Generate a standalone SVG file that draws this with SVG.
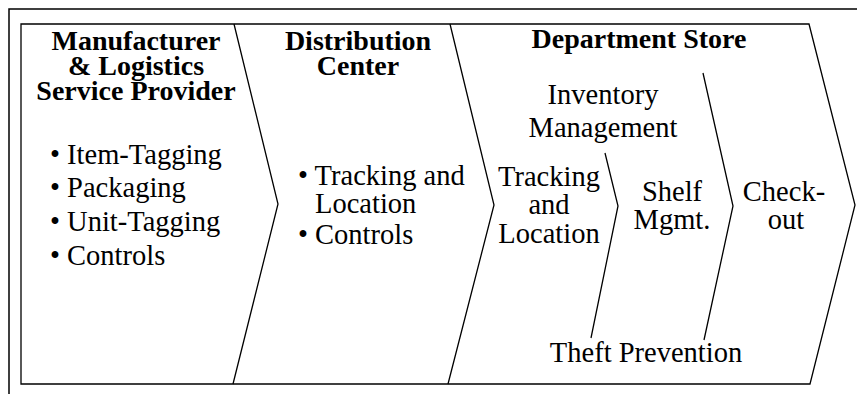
<svg xmlns="http://www.w3.org/2000/svg" width="857" height="394" viewBox="0 0 857 394">
<style>
.ln{fill:none;stroke:#000;stroke-width:1.3;stroke-linejoin:miter}
.frame{fill:none;stroke:#000;stroke-width:1.5}
.h{font-family:"Liberation Serif","Times New Roman",serif;font-weight:bold;font-size:28px;fill:#000;text-anchor:middle}
.t{font-family:"Liberation Serif","Times New Roman",serif;font-size:28.5px;fill:#000}
.c{text-anchor:middle}
</style>
<rect width="857" height="394" fill="#fff"/>
<rect class="frame" x="9" y="9" width="900" height="420"/>
<g id="manufacturer">
<polyline class="ln" points="234,24 21,24 21,384 233,384"/>
<polyline class="ln" points="234,24 278,204 233,384"/>
<text class="h" x="136" y="50">Manufacturer</text>
<text class="h" x="136" y="75">&amp; Logistics</text>
<text class="h" x="136" y="100">Service Provider</text>
<text class="t" x="50" y="164">• Item-Tagging</text>
<text class="t" x="50" y="197">• Packaging</text>
<text class="t" x="50" y="231">• Unit-Tagging</text>
<text class="t" x="50" y="265">• Controls</text>
</g>
<g id="distribution-center">
<polyline class="ln" points="234,24 450,24"/>
<polyline class="ln" points="233,384 448,384"/>
<polyline class="ln" points="450,24 494,205 448,384"/>
<text class="h" x="358" y="50">Distribution</text>
<text class="h" x="358" y="75">Center</text>
<text class="t" x="298" y="185">• Tracking and</text>
<text class="t" x="315" y="213">Location</text>
<text class="t" x="298" y="244">• Controls</text>
</g>
<g id="department-store">
<polyline class="ln" points="450,24 809,24 855,205 810,384 448,384"/>
<text class="h" x="639" y="48">Department Store</text>
<g id="inventory-management">
<text class="t c" x="603" y="104">Inventory</text>
<text class="t c" x="603" y="137">Management</text>
</g>
<g id="tracking-location">
<text class="t c" x="549" y="186">Tracking</text>
<text class="t c" x="549" y="214">and</text>
<text class="t c" x="549" y="243">Location</text>
</g>
<g id="shelf-mgmt">
<polyline class="ln" points="605,153 618,206 591,338"/>
<text class="t c" x="672" y="201">Shelf</text>
<text class="t c" x="672" y="229">Mgmt.</text>
</g>
<g id="check-out">
<polyline class="ln" points="703,73 733,206 704,340"/>
<text class="t c" x="784" y="201">Check-</text>
<text class="t c" x="786" y="229">out</text>
</g>
<g id="theft-prevention">
<text class="t c" x="646" y="362">Theft Prevention</text>
</g>
</g>
<g id="connectors"/>
</svg>
